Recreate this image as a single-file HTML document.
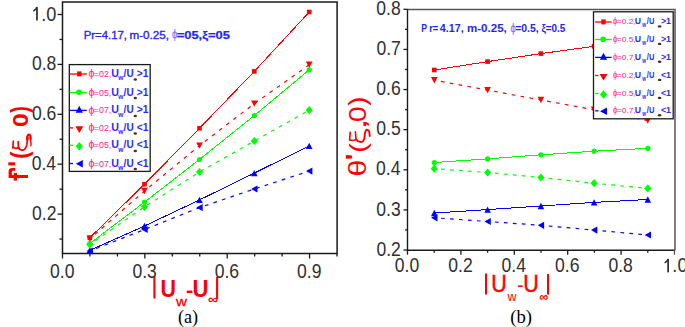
<!DOCTYPE html>
<html><head><meta charset="utf-8"><style>
html,body{margin:0;padding:0;background:#fff;}
body{width:685px;height:327px;overflow:hidden;}
svg{display:block;}
.tl{font-family:"Liberation Sans",sans-serif;font-size:19.5px;fill:#303030;}
</style></head><body>
<svg width="685" height="327" viewBox="0 0 685 327">
<path d="M62.5,2V253.5H337.1V2Z" fill="none" stroke="#1a1a1a" stroke-width="1.5"/>
<line x1="57.5" y1="14.50" x2="62.5" y2="14.50" stroke="#1a1a1a" stroke-width="1.3"/>
<line x1="59.5" y1="39.45" x2="62.5" y2="39.45" stroke="#1a1a1a" stroke-width="1.3"/>
<line x1="57.5" y1="64.40" x2="62.5" y2="64.40" stroke="#1a1a1a" stroke-width="1.3"/>
<line x1="59.5" y1="89.35" x2="62.5" y2="89.35" stroke="#1a1a1a" stroke-width="1.3"/>
<line x1="57.5" y1="114.30" x2="62.5" y2="114.30" stroke="#1a1a1a" stroke-width="1.3"/>
<line x1="59.5" y1="139.25" x2="62.5" y2="139.25" stroke="#1a1a1a" stroke-width="1.3"/>
<line x1="57.5" y1="164.20" x2="62.5" y2="164.20" stroke="#1a1a1a" stroke-width="1.3"/>
<line x1="59.5" y1="189.15" x2="62.5" y2="189.15" stroke="#1a1a1a" stroke-width="1.3"/>
<line x1="57.5" y1="214.10" x2="62.5" y2="214.10" stroke="#1a1a1a" stroke-width="1.3"/>
<line x1="59.5" y1="239.05" x2="62.5" y2="239.05" stroke="#1a1a1a" stroke-width="1.3"/>
<line x1="62.50" y1="253.5" x2="62.50" y2="258.5" stroke="#1a1a1a" stroke-width="1.3"/>
<line x1="89.95" y1="253.5" x2="89.95" y2="256.5" stroke="#1a1a1a" stroke-width="1.3"/>
<line x1="117.40" y1="253.5" x2="117.40" y2="256.5" stroke="#1a1a1a" stroke-width="1.3"/>
<line x1="144.85" y1="253.5" x2="144.85" y2="258.5" stroke="#1a1a1a" stroke-width="1.3"/>
<line x1="172.30" y1="253.5" x2="172.30" y2="256.5" stroke="#1a1a1a" stroke-width="1.3"/>
<line x1="199.75" y1="253.5" x2="199.75" y2="256.5" stroke="#1a1a1a" stroke-width="1.3"/>
<line x1="227.20" y1="253.5" x2="227.20" y2="258.5" stroke="#1a1a1a" stroke-width="1.3"/>
<line x1="254.65" y1="253.5" x2="254.65" y2="256.5" stroke="#1a1a1a" stroke-width="1.3"/>
<line x1="282.10" y1="253.5" x2="282.10" y2="256.5" stroke="#1a1a1a" stroke-width="1.3"/>
<line x1="309.55" y1="253.5" x2="309.55" y2="258.5" stroke="#1a1a1a" stroke-width="1.3"/>
<line x1="337.00" y1="253.5" x2="337.00" y2="256.5" stroke="#1a1a1a" stroke-width="1.3"/>
<path d="M33.43,10.98 C35.03,10.08 36.33,8.68 36.93,7.08" fill="none" stroke="#303030" stroke-width="1.5"/><rect x="36.08" y="7.08" width="1.75" height="13.42" fill="#303030"/><text x="41.17" y="20.50" font-family='"Liberation Sans",sans-serif' font-size="19.5" font-weight="normal" fill="#303030" textLength="15.14" lengthAdjust="spacingAndGlyphs" >.0</text>
<text x="31.97" y="70.40" font-family='"Liberation Sans",sans-serif' font-size="19.5" font-weight="normal" fill="#303030" textLength="24.40" lengthAdjust="spacingAndGlyphs" >0.8</text>
<text x="31.97" y="120.30" font-family='"Liberation Sans",sans-serif' font-size="19.5" font-weight="normal" fill="#303030" textLength="24.40" lengthAdjust="spacingAndGlyphs" >0.6</text>
<text x="31.72" y="170.20" font-family='"Liberation Sans",sans-serif' font-size="19.5" font-weight="normal" fill="#303030" textLength="24.40" lengthAdjust="spacingAndGlyphs" >0.4</text>
<text x="32.09" y="220.10" font-family='"Liberation Sans",sans-serif' font-size="19.5" font-weight="normal" fill="#303030" textLength="24.40" lengthAdjust="spacingAndGlyphs" >0.2</text>
<text x="50.00" y="277.80" font-family='"Liberation Sans",sans-serif' font-size="19.5" font-weight="normal" fill="#303030" textLength="24.40" lengthAdjust="spacingAndGlyphs" >0.0</text>
<text x="132.39" y="277.80" font-family='"Liberation Sans",sans-serif' font-size="19.5" font-weight="normal" fill="#303030" textLength="24.40" lengthAdjust="spacingAndGlyphs" >0.3</text>
<text x="214.74" y="277.80" font-family='"Liberation Sans",sans-serif' font-size="19.5" font-weight="normal" fill="#303030" textLength="24.40" lengthAdjust="spacingAndGlyphs" >0.6</text>
<text x="297.12" y="277.80" font-family='"Liberation Sans",sans-serif' font-size="19.5" font-weight="normal" fill="#303030" textLength="24.40" lengthAdjust="spacingAndGlyphs" >0.9</text>
<polyline points="89.80,237.80 144.50,184.20 199.50,128.30 254.30,71.40 309.20,12.00" fill="none" stroke="#ff0000" stroke-width="1" shape-rendering="crispEdges"/>
<polyline points="89.80,243.50 144.50,202.10 199.50,159.50 254.30,115.50 309.20,69.90" fill="none" stroke="#00ff00" stroke-width="1" shape-rendering="crispEdges"/>
<polyline points="89.80,250.30 144.50,226.00 199.50,199.90 254.30,173.10 309.20,145.90" fill="none" stroke="#0000ff" stroke-width="1" shape-rendering="crispEdges"/>
<polyline points="89.80,238.80 144.50,191.00 199.50,145.60 254.30,103.60 309.20,64.80" fill="none" stroke="#ff0000" stroke-width="1.2" stroke-dasharray="3.7 5.3" stroke-dashoffset="2.3"/>
<polyline points="89.80,244.50 144.50,206.80 199.50,172.00 254.30,141.00 309.20,110.20" fill="none" stroke="#00ff00" stroke-width="1.2" stroke-dasharray="3.7 5.3" stroke-dashoffset="2.3"/>
<polyline points="89.80,251.00 144.50,229.50 199.50,207.60 254.30,189.00 309.20,171.10" fill="none" stroke="#0000ff" stroke-width="1.2" stroke-dasharray="3.7 5.3" stroke-dashoffset="2.3"/>
<rect x="87.50" y="235.50" width="4.60" height="4.60" fill="#ff0000"/>
<rect x="142.20" y="181.90" width="4.60" height="4.60" fill="#ff0000"/>
<rect x="197.20" y="126.00" width="4.60" height="4.60" fill="#ff0000"/>
<rect x="252.00" y="69.10" width="4.60" height="4.60" fill="#ff0000"/>
<rect x="306.90" y="9.70" width="4.60" height="4.60" fill="#ff0000"/>
<circle cx="89.80" cy="243.50" r="2.60" fill="#00ff00"/>
<circle cx="144.50" cy="202.10" r="2.60" fill="#00ff00"/>
<circle cx="199.50" cy="159.50" r="2.60" fill="#00ff00"/>
<circle cx="254.30" cy="115.50" r="2.60" fill="#00ff00"/>
<circle cx="309.20" cy="69.90" r="2.60" fill="#00ff00"/>
<path d="M86.50,253.50H93.10L89.80,247.10Z" fill="#0000ff"/>
<path d="M141.20,229.20H147.80L144.50,222.80Z" fill="#0000ff"/>
<path d="M196.20,203.10H202.80L199.50,196.70Z" fill="#0000ff"/>
<path d="M251.00,176.30H257.60L254.30,169.90Z" fill="#0000ff"/>
<path d="M305.90,149.10H312.50L309.20,142.70Z" fill="#0000ff"/>
<path d="M86.50,235.60H93.10L89.80,242.00Z" fill="#ff0000"/>
<path d="M141.20,187.80H147.80L144.50,194.20Z" fill="#ff0000"/>
<path d="M196.20,142.40H202.80L199.50,148.80Z" fill="#ff0000"/>
<path d="M251.00,100.40H257.60L254.30,106.80Z" fill="#ff0000"/>
<path d="M305.90,61.60H312.50L309.20,68.00Z" fill="#ff0000"/>
<path d="M89.80,240.40L93.40,244.50L89.80,248.60L86.20,244.50Z" fill="#00ff00"/>
<path d="M144.50,202.70L148.10,206.80L144.50,210.90L140.90,206.80Z" fill="#00ff00"/>
<path d="M199.50,167.90L203.10,172.00L199.50,176.10L195.90,172.00Z" fill="#00ff00"/>
<path d="M254.30,136.90L257.90,141.00L254.30,145.10L250.70,141.00Z" fill="#00ff00"/>
<path d="M309.20,106.10L312.80,110.20L309.20,114.30L305.60,110.20Z" fill="#00ff00"/>
<path d="M93.00,247.40V254.60L86.60,251.00Z" fill="#0000ff"/>
<path d="M147.70,225.90V233.10L141.30,229.50Z" fill="#0000ff"/>
<path d="M202.70,204.00V211.20L196.30,207.60Z" fill="#0000ff"/>
<path d="M257.50,185.40V192.60L251.10,189.00Z" fill="#0000ff"/>
<path d="M312.40,167.50V174.70L306.00,171.10Z" fill="#0000ff"/>
<rect x="69.3" y="64.6" width="80.89999999999999" height="106.80000000000001" fill="#fff" stroke="#1a1a1a" stroke-width="1.3"/>
<line x1="69.6" y1="74" x2="86.8" y2="74" stroke="#ff0000" stroke-width="1.3"/>
<rect x="77.10" y="71.40" width="4.4" height="5.0" fill="#ff0000"/>
<text x="88.48" y="77.10" font-family='"Liberation Sans",sans-serif' font-size="10" font-weight="normal" fill="#ff1a90" textLength="6.04" lengthAdjust="spacingAndGlyphs" >ϕ</text>
<text x="93.87" y="77.00" font-family='"Liberation Sans",sans-serif' font-size="9.2" font-weight="normal" fill="#ff1a90" textLength="17.42" lengthAdjust="spacingAndGlyphs" >=02,</text>
<text x="111.26" y="77.00" font-family='"Liberation Sans",sans-serif' font-size="11.2" font-weight="bold" fill="#2b2bff" textLength="7.69" lengthAdjust="spacingAndGlyphs" >U</text>
<text x="118.32" y="80.40" font-family='"Liberation Sans",sans-serif' font-size="6.5" font-weight="bold" fill="#2b2bff" textLength="5.07" lengthAdjust="spacingAndGlyphs" >w</text>
<text x="123.60" y="77.00" font-family='"Liberation Sans",sans-serif' font-size="11.2" font-weight="bold" fill="#2b2bff" textLength="10.01" lengthAdjust="spacingAndGlyphs" >/U</text>
<ellipse cx="135.3" cy="79.60" rx="1.7" ry="1.25" fill="#4a3010"/>
<text x="136.77" y="77.00" font-family='"Liberation Sans",sans-serif' font-size="11.2" font-weight="bold" fill="#2b2bff" textLength="11.61" lengthAdjust="spacingAndGlyphs" >&gt;1</text>
<line x1="69.6" y1="92.5" x2="86.8" y2="92.5" stroke="#00ff00" stroke-width="1.3"/>
<circle cx="78.90" cy="92.20" r="2.8" fill="#00ff00"/>
<text x="88.48" y="95.60" font-family='"Liberation Sans",sans-serif' font-size="10" font-weight="normal" fill="#ff1a90" textLength="6.04" lengthAdjust="spacingAndGlyphs" >ϕ</text>
<text x="93.87" y="95.50" font-family='"Liberation Sans",sans-serif' font-size="9.2" font-weight="normal" fill="#ff1a90" textLength="17.42" lengthAdjust="spacingAndGlyphs" >=05,</text>
<text x="111.26" y="95.50" font-family='"Liberation Sans",sans-serif' font-size="11.2" font-weight="bold" fill="#2b2bff" textLength="7.69" lengthAdjust="spacingAndGlyphs" >U</text>
<text x="118.32" y="98.90" font-family='"Liberation Sans",sans-serif' font-size="6.5" font-weight="bold" fill="#2b2bff" textLength="5.07" lengthAdjust="spacingAndGlyphs" >w</text>
<text x="123.60" y="95.50" font-family='"Liberation Sans",sans-serif' font-size="11.2" font-weight="bold" fill="#2b2bff" textLength="10.01" lengthAdjust="spacingAndGlyphs" >/U</text>
<ellipse cx="135.3" cy="98.10" rx="1.7" ry="1.25" fill="#4a3010"/>
<text x="136.77" y="95.50" font-family='"Liberation Sans",sans-serif' font-size="11.2" font-weight="bold" fill="#2b2bff" textLength="11.61" lengthAdjust="spacingAndGlyphs" >&gt;1</text>
<line x1="69.6" y1="110.4" x2="86.8" y2="110.4" stroke="#0000ff" stroke-width="1.3"/>
<path d="M75.70,112.70H82.90L79.30,105.80Z" fill="#0000ff"/>
<text x="88.48" y="113.50" font-family='"Liberation Sans",sans-serif' font-size="10" font-weight="normal" fill="#ff1a90" textLength="6.04" lengthAdjust="spacingAndGlyphs" >ϕ</text>
<text x="93.87" y="113.40" font-family='"Liberation Sans",sans-serif' font-size="9.2" font-weight="normal" fill="#ff1a90" textLength="17.42" lengthAdjust="spacingAndGlyphs" >=07,</text>
<text x="111.26" y="113.40" font-family='"Liberation Sans",sans-serif' font-size="11.2" font-weight="bold" fill="#2b2bff" textLength="7.69" lengthAdjust="spacingAndGlyphs" >U</text>
<text x="118.32" y="116.80" font-family='"Liberation Sans",sans-serif' font-size="6.5" font-weight="bold" fill="#2b2bff" textLength="5.07" lengthAdjust="spacingAndGlyphs" >w</text>
<text x="123.60" y="113.40" font-family='"Liberation Sans",sans-serif' font-size="11.2" font-weight="bold" fill="#2b2bff" textLength="10.01" lengthAdjust="spacingAndGlyphs" >/U</text>
<ellipse cx="135.3" cy="116.00" rx="1.7" ry="1.25" fill="#4a3010"/>
<text x="136.77" y="113.40" font-family='"Liberation Sans",sans-serif' font-size="11.2" font-weight="bold" fill="#2b2bff" textLength="11.61" lengthAdjust="spacingAndGlyphs" >&gt;1</text>
<line x1="69.6" y1="127.9" x2="73.0" y2="127.9" stroke="#ff0000" stroke-width="1.3"/>
<path d="M75.30,126.30H83.30L79.30,132.90Z" fill="#ff0000"/>
<text x="88.48" y="131.00" font-family='"Liberation Sans",sans-serif' font-size="10" font-weight="normal" fill="#ff1a90" textLength="6.04" lengthAdjust="spacingAndGlyphs" >ϕ</text>
<text x="93.87" y="130.90" font-family='"Liberation Sans",sans-serif' font-size="9.2" font-weight="normal" fill="#ff1a90" textLength="17.42" lengthAdjust="spacingAndGlyphs" >=02,</text>
<text x="111.26" y="130.90" font-family='"Liberation Sans",sans-serif' font-size="11.2" font-weight="bold" fill="#2b2bff" textLength="7.69" lengthAdjust="spacingAndGlyphs" >U</text>
<text x="118.32" y="134.30" font-family='"Liberation Sans",sans-serif' font-size="6.5" font-weight="bold" fill="#2b2bff" textLength="5.07" lengthAdjust="spacingAndGlyphs" >w</text>
<text x="123.60" y="130.90" font-family='"Liberation Sans",sans-serif' font-size="11.2" font-weight="bold" fill="#2b2bff" textLength="10.01" lengthAdjust="spacingAndGlyphs" >/U</text>
<ellipse cx="135.3" cy="133.50" rx="1.7" ry="1.25" fill="#4a3010"/>
<text x="136.77" y="130.90" font-family='"Liberation Sans",sans-serif' font-size="11.2" font-weight="bold" fill="#2b2bff" textLength="11.61" lengthAdjust="spacingAndGlyphs" >&lt;1</text>
<line x1="69.6" y1="145.3" x2="73.0" y2="145.3" stroke="#00ff00" stroke-width="1.3"/>
<path d="M79.30,142.10L82.90,146.30L79.30,150.50L75.70,146.30Z" fill="#00ff00"/>
<text x="88.48" y="148.40" font-family='"Liberation Sans",sans-serif' font-size="10" font-weight="normal" fill="#ff1a90" textLength="6.04" lengthAdjust="spacingAndGlyphs" >ϕ</text>
<text x="93.87" y="148.30" font-family='"Liberation Sans",sans-serif' font-size="9.2" font-weight="normal" fill="#ff1a90" textLength="17.42" lengthAdjust="spacingAndGlyphs" >=05,</text>
<text x="111.26" y="148.30" font-family='"Liberation Sans",sans-serif' font-size="11.2" font-weight="bold" fill="#2b2bff" textLength="7.69" lengthAdjust="spacingAndGlyphs" >U</text>
<text x="118.32" y="151.70" font-family='"Liberation Sans",sans-serif' font-size="6.5" font-weight="bold" fill="#2b2bff" textLength="5.07" lengthAdjust="spacingAndGlyphs" >w</text>
<text x="123.60" y="148.30" font-family='"Liberation Sans",sans-serif' font-size="11.2" font-weight="bold" fill="#2b2bff" textLength="10.01" lengthAdjust="spacingAndGlyphs" >/U</text>
<ellipse cx="135.3" cy="150.90" rx="1.7" ry="1.25" fill="#4a3010"/>
<text x="136.77" y="148.30" font-family='"Liberation Sans",sans-serif' font-size="11.2" font-weight="bold" fill="#2b2bff" textLength="11.61" lengthAdjust="spacingAndGlyphs" >&lt;1</text>
<line x1="69.6" y1="163.5" x2="73.0" y2="163.5" stroke="#0000ff" stroke-width="1.3"/>
<path d="M82.80,160.10V167.60L75.80,163.85Z" fill="#0000ff"/>
<text x="88.48" y="166.60" font-family='"Liberation Sans",sans-serif' font-size="10" font-weight="normal" fill="#ff1a90" textLength="6.04" lengthAdjust="spacingAndGlyphs" >ϕ</text>
<text x="93.87" y="166.50" font-family='"Liberation Sans",sans-serif' font-size="9.2" font-weight="normal" fill="#ff1a90" textLength="17.42" lengthAdjust="spacingAndGlyphs" >=07,</text>
<text x="111.26" y="166.50" font-family='"Liberation Sans",sans-serif' font-size="11.2" font-weight="bold" fill="#2b2bff" textLength="7.69" lengthAdjust="spacingAndGlyphs" >U</text>
<text x="118.32" y="169.90" font-family='"Liberation Sans",sans-serif' font-size="6.5" font-weight="bold" fill="#2b2bff" textLength="5.07" lengthAdjust="spacingAndGlyphs" >w</text>
<text x="123.60" y="166.50" font-family='"Liberation Sans",sans-serif' font-size="11.2" font-weight="bold" fill="#2b2bff" textLength="10.01" lengthAdjust="spacingAndGlyphs" >/U</text>
<ellipse cx="135.3" cy="169.10" rx="1.7" ry="1.25" fill="#4a3010"/>
<text x="136.77" y="166.50" font-family='"Liberation Sans",sans-serif' font-size="11.2" font-weight="bold" fill="#2b2bff" textLength="11.61" lengthAdjust="spacingAndGlyphs" >&lt;1</text>
<path d="M407.5,9.3V250.2H675" fill="none" stroke="#1a1a1a" stroke-width="1.4"/>
<path d="M407.5,9.5H675V250.2" fill="none" stroke="#555" stroke-width="1.5"/>
<line x1="403.5" y1="9.30" x2="407.5" y2="9.30" stroke="#1a1a1a" stroke-width="1.3"/>
<line x1="405.0" y1="29.36" x2="407.5" y2="29.36" stroke="#1a1a1a" stroke-width="1.3"/>
<line x1="403.5" y1="49.42" x2="407.5" y2="49.42" stroke="#1a1a1a" stroke-width="1.3"/>
<line x1="405.0" y1="69.48" x2="407.5" y2="69.48" stroke="#1a1a1a" stroke-width="1.3"/>
<line x1="403.5" y1="89.54" x2="407.5" y2="89.54" stroke="#1a1a1a" stroke-width="1.3"/>
<line x1="405.0" y1="109.60" x2="407.5" y2="109.60" stroke="#1a1a1a" stroke-width="1.3"/>
<line x1="403.5" y1="129.66" x2="407.5" y2="129.66" stroke="#1a1a1a" stroke-width="1.3"/>
<line x1="405.0" y1="149.72" x2="407.5" y2="149.72" stroke="#1a1a1a" stroke-width="1.3"/>
<line x1="403.5" y1="169.78" x2="407.5" y2="169.78" stroke="#1a1a1a" stroke-width="1.3"/>
<line x1="405.0" y1="189.84" x2="407.5" y2="189.84" stroke="#1a1a1a" stroke-width="1.3"/>
<line x1="403.5" y1="209.90" x2="407.5" y2="209.90" stroke="#1a1a1a" stroke-width="1.3"/>
<line x1="405.0" y1="229.96" x2="407.5" y2="229.96" stroke="#1a1a1a" stroke-width="1.3"/>
<line x1="403.5" y1="250.02" x2="407.5" y2="250.02" stroke="#1a1a1a" stroke-width="1.3"/>
<line x1="407.50" y1="250.2" x2="407.50" y2="254.7" stroke="#1a1a1a" stroke-width="1.3"/>
<line x1="434.20" y1="250.2" x2="434.20" y2="252.7" stroke="#1a1a1a" stroke-width="1.3"/>
<line x1="460.90" y1="250.2" x2="460.90" y2="254.7" stroke="#1a1a1a" stroke-width="1.3"/>
<line x1="487.60" y1="250.2" x2="487.60" y2="252.7" stroke="#1a1a1a" stroke-width="1.3"/>
<line x1="514.30" y1="250.2" x2="514.30" y2="254.7" stroke="#1a1a1a" stroke-width="1.3"/>
<line x1="541.00" y1="250.2" x2="541.00" y2="252.7" stroke="#1a1a1a" stroke-width="1.3"/>
<line x1="567.70" y1="250.2" x2="567.70" y2="254.7" stroke="#1a1a1a" stroke-width="1.3"/>
<line x1="594.40" y1="250.2" x2="594.40" y2="252.7" stroke="#1a1a1a" stroke-width="1.3"/>
<line x1="621.10" y1="250.2" x2="621.10" y2="254.7" stroke="#1a1a1a" stroke-width="1.3"/>
<line x1="647.80" y1="250.2" x2="647.80" y2="252.7" stroke="#1a1a1a" stroke-width="1.3"/>
<line x1="674.50" y1="250.2" x2="674.50" y2="254.7" stroke="#555" stroke-width="1.3"/>
<text x="376.37" y="14.90" font-family='"Liberation Sans",sans-serif' font-size="19.5" font-weight="normal" fill="#303030" textLength="24.40" lengthAdjust="spacingAndGlyphs" >0.8</text>
<text x="376.49" y="55.02" font-family='"Liberation Sans",sans-serif' font-size="19.5" font-weight="normal" fill="#303030" textLength="24.40" lengthAdjust="spacingAndGlyphs" >0.7</text>
<text x="376.37" y="95.14" font-family='"Liberation Sans",sans-serif' font-size="19.5" font-weight="normal" fill="#303030" textLength="24.40" lengthAdjust="spacingAndGlyphs" >0.6</text>
<text x="376.34" y="135.26" font-family='"Liberation Sans",sans-serif' font-size="19.5" font-weight="normal" fill="#303030" textLength="24.40" lengthAdjust="spacingAndGlyphs" >0.5</text>
<text x="376.12" y="175.38" font-family='"Liberation Sans",sans-serif' font-size="19.5" font-weight="normal" fill="#303030" textLength="24.40" lengthAdjust="spacingAndGlyphs" >0.4</text>
<text x="376.37" y="215.50" font-family='"Liberation Sans",sans-serif' font-size="19.5" font-weight="normal" fill="#303030" textLength="24.40" lengthAdjust="spacingAndGlyphs" >0.3</text>
<text x="376.49" y="255.62" font-family='"Liberation Sans",sans-serif' font-size="19.5" font-weight="normal" fill="#303030" textLength="24.40" lengthAdjust="spacingAndGlyphs" >0.2</text>
<text x="394.80" y="272.40" font-family='"Liberation Sans",sans-serif' font-size="19.5" font-weight="normal" fill="#303030" textLength="24.40" lengthAdjust="spacingAndGlyphs" >0.0</text>
<text x="448.30" y="272.40" font-family='"Liberation Sans",sans-serif' font-size="19.5" font-weight="normal" fill="#303030" textLength="24.40" lengthAdjust="spacingAndGlyphs" >0.2</text>
<text x="501.52" y="272.40" font-family='"Liberation Sans",sans-serif' font-size="19.5" font-weight="normal" fill="#303030" textLength="24.40" lengthAdjust="spacingAndGlyphs" >0.4</text>
<text x="555.04" y="272.40" font-family='"Liberation Sans",sans-serif' font-size="19.5" font-weight="normal" fill="#303030" textLength="24.40" lengthAdjust="spacingAndGlyphs" >0.6</text>
<text x="608.44" y="272.40" font-family='"Liberation Sans",sans-serif' font-size="19.5" font-weight="normal" fill="#303030" textLength="24.40" lengthAdjust="spacingAndGlyphs" >0.8</text>
<path d="M664.61,262.88 C666.21,261.98 667.51,260.58 668.11,258.98" fill="none" stroke="#303030" stroke-width="1.5"/><rect x="667.26" y="258.98" width="1.75" height="13.42" fill="#303030"/><text x="672.35" y="272.40" font-family='"Liberation Sans",sans-serif' font-size="19.5" font-weight="normal" fill="#303030" textLength="15.14" lengthAdjust="spacingAndGlyphs" >.0</text>
<polyline points="434.30,70.00 487.60,61.60 540.90,53.60 594.10,46.30 647.80,38.50" fill="none" stroke="#ff0000" stroke-width="1" shape-rendering="crispEdges"/>
<polyline points="434.30,162.50 487.60,158.90 540.90,154.80 594.10,151.20 647.80,148.30" fill="none" stroke="#00ff00" stroke-width="1" shape-rendering="crispEdges"/>
<polyline points="434.30,213.00 487.60,209.60 540.90,206.00 594.10,202.40 647.80,199.50" fill="none" stroke="#0000ff" stroke-width="1" shape-rendering="crispEdges"/>
<polyline points="434.30,80.20 487.60,90.10 540.90,100.00 594.10,109.80 647.80,120.60" fill="none" stroke="#ff0000" stroke-width="1.2" stroke-dasharray="3.7 5.3" stroke-dashoffset="2.3"/>
<polyline points="434.30,168.70 487.60,172.50 540.90,177.50 594.10,183.20 647.80,188.40" fill="none" stroke="#00ff00" stroke-width="1.2" stroke-dasharray="3.7 5.3" stroke-dashoffset="2.3"/>
<polyline points="434.30,217.80 487.60,221.50 540.90,225.30 594.10,230.10 647.80,235.00" fill="none" stroke="#0000ff" stroke-width="1.2" stroke-dasharray="3.7 5.3" stroke-dashoffset="2.3"/>
<rect x="432.00" y="67.70" width="4.60" height="4.60" fill="#ff0000"/>
<rect x="485.30" y="59.30" width="4.60" height="4.60" fill="#ff0000"/>
<rect x="538.60" y="51.30" width="4.60" height="4.60" fill="#ff0000"/>
<rect x="591.80" y="44.00" width="4.60" height="4.60" fill="#ff0000"/>
<rect x="645.50" y="36.20" width="4.60" height="4.60" fill="#ff0000"/>
<circle cx="434.30" cy="162.50" r="2.60" fill="#00ff00"/>
<circle cx="487.60" cy="158.90" r="2.60" fill="#00ff00"/>
<circle cx="540.90" cy="154.80" r="2.60" fill="#00ff00"/>
<circle cx="594.10" cy="151.20" r="2.60" fill="#00ff00"/>
<circle cx="647.80" cy="148.30" r="2.60" fill="#00ff00"/>
<path d="M431.00,216.20H437.60L434.30,209.80Z" fill="#0000ff"/>
<path d="M484.30,212.80H490.90L487.60,206.40Z" fill="#0000ff"/>
<path d="M537.60,209.20H544.20L540.90,202.80Z" fill="#0000ff"/>
<path d="M590.80,205.60H597.40L594.10,199.20Z" fill="#0000ff"/>
<path d="M644.50,202.70H651.10L647.80,196.30Z" fill="#0000ff"/>
<path d="M431.00,77.00H437.60L434.30,83.40Z" fill="#ff0000"/>
<path d="M484.30,86.90H490.90L487.60,93.30Z" fill="#ff0000"/>
<path d="M537.60,96.80H544.20L540.90,103.20Z" fill="#ff0000"/>
<path d="M590.80,106.60H597.40L594.10,113.00Z" fill="#ff0000"/>
<path d="M644.50,117.40H651.10L647.80,123.80Z" fill="#ff0000"/>
<path d="M434.30,164.60L437.90,168.70L434.30,172.80L430.70,168.70Z" fill="#00ff00"/>
<path d="M487.60,168.40L491.20,172.50L487.60,176.60L484.00,172.50Z" fill="#00ff00"/>
<path d="M540.90,173.40L544.50,177.50L540.90,181.60L537.30,177.50Z" fill="#00ff00"/>
<path d="M594.10,179.10L597.70,183.20L594.10,187.30L590.50,183.20Z" fill="#00ff00"/>
<path d="M647.80,184.30L651.40,188.40L647.80,192.50L644.20,188.40Z" fill="#00ff00"/>
<path d="M437.50,214.20V221.40L431.10,217.80Z" fill="#0000ff"/>
<path d="M490.80,217.90V225.10L484.40,221.50Z" fill="#0000ff"/>
<path d="M544.10,221.70V228.90L537.70,225.30Z" fill="#0000ff"/>
<path d="M597.30,226.50V233.70L590.90,230.10Z" fill="#0000ff"/>
<path d="M651.00,231.40V238.60L644.60,235.00Z" fill="#0000ff"/>
<rect x="593.5" y="11.8" width="79.70000000000005" height="107.0" fill="#fff" stroke="#1a1a1a" stroke-width="1.3"/>
<line x1="595.1" y1="22" x2="611.6" y2="22" stroke="#ff0000" stroke-width="1.3"/>
<rect x="601.30" y="19.40" width="4.4" height="5.0" fill="#ff0000"/>
<text x="613.00" y="24.30" font-family='"Liberation Sans",sans-serif' font-size="8.5" font-weight="normal" fill="#ff1a90" textLength="4.30" lengthAdjust="spacingAndGlyphs" >ϕ</text>
<text x="616.79" y="24.30" font-family='"Liberation Sans",sans-serif' font-size="7.8" font-weight="normal" fill="#ff1a90" textLength="18.97" lengthAdjust="spacingAndGlyphs" >=0.2,</text>
<text x="634.68" y="24.30" font-family='"Liberation Sans",sans-serif' font-size="9.6" font-weight="bold" fill="#2b2bff" textLength="6.25" lengthAdjust="spacingAndGlyphs" >U</text>
<text x="642.21" y="27.10" font-family='"Liberation Sans",sans-serif' font-size="6.5" font-weight="bold" fill="#2b2bff" textLength="3.78" lengthAdjust="spacingAndGlyphs" >w</text>
<text x="646.83" y="24.30" font-family='"Liberation Sans",sans-serif' font-size="9.6" font-weight="bold" fill="#2b2bff" textLength="7.53" lengthAdjust="spacingAndGlyphs" >/U</text>
<ellipse cx="659.6" cy="26.40" rx="1.8" ry="1.2" fill="#4a3010"/>
<text x="660.93" y="24.30" font-family='"Liberation Sans",sans-serif' font-size="9.6" font-weight="bold" fill="#2b2bff" textLength="10.01" lengthAdjust="spacingAndGlyphs" >&gt;1</text>
<line x1="595.1" y1="39.5" x2="611.6" y2="39.5" stroke="#00ff00" stroke-width="1.3"/>
<circle cx="603.10" cy="39.20" r="2.8" fill="#00ff00"/>
<text x="613.00" y="41.80" font-family='"Liberation Sans",sans-serif' font-size="8.5" font-weight="normal" fill="#ff1a90" textLength="4.30" lengthAdjust="spacingAndGlyphs" >ϕ</text>
<text x="616.79" y="41.80" font-family='"Liberation Sans",sans-serif' font-size="7.8" font-weight="normal" fill="#ff1a90" textLength="18.97" lengthAdjust="spacingAndGlyphs" >=0.5,</text>
<text x="634.68" y="41.80" font-family='"Liberation Sans",sans-serif' font-size="9.6" font-weight="bold" fill="#2b2bff" textLength="6.25" lengthAdjust="spacingAndGlyphs" >U</text>
<text x="642.21" y="44.60" font-family='"Liberation Sans",sans-serif' font-size="6.5" font-weight="bold" fill="#2b2bff" textLength="3.78" lengthAdjust="spacingAndGlyphs" >w</text>
<text x="646.83" y="41.80" font-family='"Liberation Sans",sans-serif' font-size="9.6" font-weight="bold" fill="#2b2bff" textLength="7.53" lengthAdjust="spacingAndGlyphs" >/U</text>
<ellipse cx="659.6" cy="43.90" rx="1.8" ry="1.2" fill="#4a3010"/>
<text x="660.93" y="41.80" font-family='"Liberation Sans",sans-serif' font-size="9.6" font-weight="bold" fill="#2b2bff" textLength="10.01" lengthAdjust="spacingAndGlyphs" >&gt;1</text>
<line x1="595.1" y1="57.4" x2="611.6" y2="57.4" stroke="#0000ff" stroke-width="1.3"/>
<path d="M599.90,59.70H607.10L603.50,52.80Z" fill="#0000ff"/>
<text x="613.00" y="59.70" font-family='"Liberation Sans",sans-serif' font-size="8.5" font-weight="normal" fill="#ff1a90" textLength="4.30" lengthAdjust="spacingAndGlyphs" >ϕ</text>
<text x="616.79" y="59.70" font-family='"Liberation Sans",sans-serif' font-size="7.8" font-weight="normal" fill="#ff1a90" textLength="18.97" lengthAdjust="spacingAndGlyphs" >=0.7,</text>
<text x="634.68" y="59.70" font-family='"Liberation Sans",sans-serif' font-size="9.6" font-weight="bold" fill="#2b2bff" textLength="6.25" lengthAdjust="spacingAndGlyphs" >U</text>
<text x="642.21" y="62.50" font-family='"Liberation Sans",sans-serif' font-size="6.5" font-weight="bold" fill="#2b2bff" textLength="3.78" lengthAdjust="spacingAndGlyphs" >w</text>
<text x="646.83" y="59.70" font-family='"Liberation Sans",sans-serif' font-size="9.6" font-weight="bold" fill="#2b2bff" textLength="7.53" lengthAdjust="spacingAndGlyphs" >/U</text>
<ellipse cx="659.6" cy="61.80" rx="1.8" ry="1.2" fill="#4a3010"/>
<text x="660.93" y="59.70" font-family='"Liberation Sans",sans-serif' font-size="9.6" font-weight="bold" fill="#2b2bff" textLength="10.01" lengthAdjust="spacingAndGlyphs" >&gt;1</text>
<line x1="595.1" y1="75.5" x2="598.5" y2="75.5" stroke="#ff0000" stroke-width="1.3"/>
<path d="M599.50,73.90H607.50L603.50,80.50Z" fill="#ff0000"/>
<text x="613.00" y="77.80" font-family='"Liberation Sans",sans-serif' font-size="8.5" font-weight="normal" fill="#ff1a90" textLength="4.30" lengthAdjust="spacingAndGlyphs" >ϕ</text>
<text x="616.79" y="77.80" font-family='"Liberation Sans",sans-serif' font-size="7.8" font-weight="normal" fill="#ff1a90" textLength="18.97" lengthAdjust="spacingAndGlyphs" >=0.2,</text>
<text x="634.68" y="77.80" font-family='"Liberation Sans",sans-serif' font-size="9.6" font-weight="bold" fill="#2b2bff" textLength="6.25" lengthAdjust="spacingAndGlyphs" >U</text>
<text x="642.21" y="80.60" font-family='"Liberation Sans",sans-serif' font-size="6.5" font-weight="bold" fill="#2b2bff" textLength="3.78" lengthAdjust="spacingAndGlyphs" >w</text>
<text x="646.83" y="77.80" font-family='"Liberation Sans",sans-serif' font-size="9.6" font-weight="bold" fill="#2b2bff" textLength="7.53" lengthAdjust="spacingAndGlyphs" >/U</text>
<ellipse cx="659.6" cy="79.90" rx="1.8" ry="1.2" fill="#4a3010"/>
<text x="660.93" y="77.80" font-family='"Liberation Sans",sans-serif' font-size="9.6" font-weight="bold" fill="#2b2bff" textLength="10.01" lengthAdjust="spacingAndGlyphs" >&lt;1</text>
<line x1="595.1" y1="93.5" x2="598.5" y2="93.5" stroke="#00ff00" stroke-width="1.3"/>
<path d="M603.50,90.30L607.10,94.50L603.50,98.70L599.90,94.50Z" fill="#00ff00"/>
<text x="613.00" y="95.80" font-family='"Liberation Sans",sans-serif' font-size="8.5" font-weight="normal" fill="#ff1a90" textLength="4.30" lengthAdjust="spacingAndGlyphs" >ϕ</text>
<text x="616.79" y="95.80" font-family='"Liberation Sans",sans-serif' font-size="7.8" font-weight="normal" fill="#ff1a90" textLength="18.97" lengthAdjust="spacingAndGlyphs" >=0.5,</text>
<text x="634.68" y="95.80" font-family='"Liberation Sans",sans-serif' font-size="9.6" font-weight="bold" fill="#2b2bff" textLength="6.25" lengthAdjust="spacingAndGlyphs" >U</text>
<text x="642.21" y="98.60" font-family='"Liberation Sans",sans-serif' font-size="6.5" font-weight="bold" fill="#2b2bff" textLength="3.78" lengthAdjust="spacingAndGlyphs" >w</text>
<text x="646.83" y="95.80" font-family='"Liberation Sans",sans-serif' font-size="9.6" font-weight="bold" fill="#2b2bff" textLength="7.53" lengthAdjust="spacingAndGlyphs" >/U</text>
<ellipse cx="659.6" cy="97.90" rx="1.8" ry="1.2" fill="#4a3010"/>
<text x="660.93" y="95.80" font-family='"Liberation Sans",sans-serif' font-size="9.6" font-weight="bold" fill="#2b2bff" textLength="10.01" lengthAdjust="spacingAndGlyphs" >&lt;1</text>
<line x1="595.1" y1="110.8" x2="598.5" y2="110.8" stroke="#0000ff" stroke-width="1.3"/>
<path d="M607.00,107.40V114.90L600.00,111.15Z" fill="#0000ff"/>
<text x="613.00" y="113.10" font-family='"Liberation Sans",sans-serif' font-size="8.5" font-weight="normal" fill="#ff1a90" textLength="4.30" lengthAdjust="spacingAndGlyphs" >ϕ</text>
<text x="616.79" y="113.10" font-family='"Liberation Sans",sans-serif' font-size="7.8" font-weight="normal" fill="#ff1a90" textLength="18.97" lengthAdjust="spacingAndGlyphs" >=0.7,</text>
<text x="634.68" y="113.10" font-family='"Liberation Sans",sans-serif' font-size="9.6" font-weight="bold" fill="#2b2bff" textLength="6.25" lengthAdjust="spacingAndGlyphs" >U</text>
<text x="642.21" y="115.90" font-family='"Liberation Sans",sans-serif' font-size="6.5" font-weight="bold" fill="#2b2bff" textLength="3.78" lengthAdjust="spacingAndGlyphs" >w</text>
<text x="646.83" y="113.10" font-family='"Liberation Sans",sans-serif' font-size="9.6" font-weight="bold" fill="#2b2bff" textLength="7.53" lengthAdjust="spacingAndGlyphs" >/U</text>
<ellipse cx="659.6" cy="115.20" rx="1.8" ry="1.2" fill="#4a3010"/>
<text x="660.93" y="113.10" font-family='"Liberation Sans",sans-serif' font-size="9.6" font-weight="bold" fill="#2b2bff" textLength="10.01" lengthAdjust="spacingAndGlyphs" >&lt;1</text>
<text x="83.77" y="38.50" font-family='"Liberation Sans",sans-serif' font-size="11.6" font-weight="normal" fill="#2626f4" textLength="43.25" lengthAdjust="spacingAndGlyphs"  stroke="#2626f4" stroke-width="0.35">Pr=4.17,</text>
<text x="129.43" y="38.50" font-family='"Liberation Sans",sans-serif' font-size="11.6" font-weight="normal" fill="#2626f4" textLength="39.52" lengthAdjust="spacingAndGlyphs"  stroke="#2626f4" stroke-width="0.35">m-0.25,</text>
<text x="176.66" y="38.50" font-family='"Liberation Sans",sans-serif' font-size="11.6" font-weight="bold" fill="#2626f4" textLength="53.20" lengthAdjust="spacingAndGlyphs"  stroke="#2626f4" stroke-width="0.25">=05,ξ=05</text>
<text x="171.92" y="38.20" font-family='"Liberation Sans",sans-serif' font-size="12.55" font-weight="normal" fill="#6a6af0" textLength="5.46" lengthAdjust="spacingAndGlyphs" >ϕ</text>
<text x="421.22" y="31.90" font-family='"Liberation Sans",sans-serif' font-size="11.4" font-weight="bold" fill="#2626f4" textLength="5.78" lengthAdjust="spacingAndGlyphs" >P</text>
<text x="429.18" y="31.90" font-family='"Liberation Sans",sans-serif' font-size="11.4" font-weight="bold" fill="#2626f4" textLength="9.21" lengthAdjust="spacingAndGlyphs" >r=</text>
<text x="439.84" y="31.90" font-family='"Liberation Sans",sans-serif' font-size="11.4" font-weight="bold" fill="#2626f4" textLength="23.88" lengthAdjust="spacingAndGlyphs" >4.17,</text>
<text x="466.94" y="31.90" font-family='"Liberation Sans",sans-serif' font-size="11.4" font-weight="bold" fill="#2626f4" textLength="39.84" lengthAdjust="spacingAndGlyphs" >m-0.25,</text>
<text x="515.17" y="31.90" font-family='"Liberation Sans",sans-serif' font-size="11.4" font-weight="bold" fill="#2626f4" textLength="23.53" lengthAdjust="spacingAndGlyphs" >=0.5,</text>
<text x="541.38" y="31.90" font-family='"Liberation Sans",sans-serif' font-size="11.4" font-weight="bold" fill="#2626f4" textLength="24.00" lengthAdjust="spacingAndGlyphs" >ξ=0.5</text>
<text x="510.43" y="31.70" font-family='"Liberation Sans",sans-serif' font-size="13.2" font-weight="normal" fill="#6a6af0" textLength="5.35" lengthAdjust="spacingAndGlyphs" >ϕ</text>
<path d="M28,175.1H11.9V171.6Q11.9,170.7 12.9,170.7H15.2V168.1H12.2Q8.6,168.1 8.6,171.6V178H28Z" fill="#ff0000"/>
<rect x="13.7" y="172.9" width="3.3" height="7.7" fill="#ff0000"/>
<rect x="8.3" y="162.3" width="6.8" height="3.1" fill="#ff0000"/>
<g transform="translate(28.30,158.69) rotate(-90) scale(0.935,1)"><text x="0" y="0" font-family='"Liberation Sans",sans-serif' font-size="23.5" font-weight="bold" fill="#ff0000">(</text></g>
<g fill="none" stroke="#ff0000" stroke-width="1.7" stroke-linecap="round"><path d="M13.3,141.2L12.9,148"/><path d="M13.2,147.2Q15.6,149.3 18.4,147.6"/><path d="M18.1,141.6L18.5,147.6"/><path d="M18.5,147.4Q19.8,150.6 22.9,150.1Q26.1,149.4 26.9,144.2Q27.3,140.3 27.9,137.5"/><path d="M27.2,139.5Q27.0,134.8 29.0,134.6Q30.7,134.8 30.6,138.8" stroke-width="2.4"/><path d="M30.6,139Q31.2,142.5 30.9,145.8" stroke-width="1.4"/></g>
<g transform="translate(27.80,126.97) rotate(-90) scale(1.093,1)"><text x="0" y="0" font-family='"Liberation Sans",sans-serif' font-size="22.5" font-weight="bold" fill="#ff0000">0</text></g>
<g transform="translate(28.10,112.82) rotate(-90) scale(0.844,1)"><text x="0" y="0" font-family='"Liberation Sans",sans-serif' font-size="23.5" font-weight="bold" fill="#ff0000">)</text></g>
<g transform="translate(365.60,176.38) rotate(-90) scale(1.326,1)"><text x="0" y="0" font-family='"Liberation Sans",sans-serif' font-size="23" font-weight="normal" fill="#ff0000">θ</text></g>
<g transform="translate(363.10,160.18) rotate(-90) scale(1.211,1)"><text x="0" y="0" font-family='"Liberation Sans",sans-serif' font-size="23" font-weight="bold" fill="#ff0000">'</text></g>
<g transform="translate(366.10,152.78) rotate(-90) scale(1.220,1)"><text x="0" y="0" font-family='"Liberation Sans",sans-serif' font-size="23.5" font-weight="normal" fill="#ff0000">(</text></g>
<g fill="none" stroke="#ff0000" stroke-width="1.6" stroke-linecap="round"><path d="M350.2,132.4L349.6,140"/><path d="M349.8,139.8Q352.5,141.3 355.8,139.4"/><path d="M355.4,131.8L356,139.5"/><path d="M356,139.4Q358.5,142.5 361.8,141.9Q364.3,141 364.6,136.5Q364.9,131.5 366.3,129.9Q368.5,129.2 369.4,132.5L369.7,136" stroke-width="1.9"/></g>
<g transform="translate(366.10,129.66) rotate(-90) scale(1.772,1)"><text x="0" y="0" font-family='"Liberation Sans",sans-serif' font-size="23" font-weight="normal" fill="#ff0000">,</text></g>
<g transform="translate(365.90,121.89) rotate(-90) scale(1.184,1)"><text x="0" y="0" font-family='"Liberation Sans",sans-serif' font-size="23.5" font-weight="normal" fill="#ff0000">0</text></g>
<g transform="translate(366.10,105.76) rotate(-90) scale(1.172,1)"><text x="0" y="0" font-family='"Liberation Sans",sans-serif' font-size="23.5" font-weight="normal" fill="#ff0000">)</text></g>
<rect x="153.35" y="277" width="2.1" height="21.5" fill="#ff0000"/>
<rect x="216.05" y="277" width="2.1" height="22" fill="#ff0000"/>
<text x="160.61" y="296.50" font-family='"Liberation Sans",sans-serif' font-size="23.5" font-weight="bold" fill="#ff0000" textLength="15.50" lengthAdjust="spacingAndGlyphs" >U</text>
<text x="175.92" y="305.60" font-family='"Liberation Sans",sans-serif' font-size="13.5" font-weight="normal" fill="#ff0000" textLength="10.94" lengthAdjust="spacingAndGlyphs" stroke="#ff0000" stroke-width="0.3">w</text>
<text x="185.95" y="296.50" font-family='"Liberation Sans",sans-serif' font-size="21" font-weight="bold" fill="#ff0000" textLength="7.21" lengthAdjust="spacingAndGlyphs" >-</text>
<text x="192.57" y="296.50" font-family='"Liberation Sans",sans-serif' font-size="23.5" font-weight="bold" fill="#ff0000" textLength="15.98" lengthAdjust="spacingAndGlyphs" >U</text>
<text x="208.00" y="304.10" font-family='"Liberation Sans",sans-serif' font-size="14" font-weight="bold" fill="#ff0000" textLength="10.09" lengthAdjust="spacingAndGlyphs" >∞</text>
<rect x="485.00" y="273.5" width="2.0" height="21.0" fill="#ff0000"/>
<rect x="547.00" y="274" width="2.0" height="20.5" fill="#ff0000"/>
<text x="491.34" y="292.30" font-family='"Liberation Sans",sans-serif' font-size="23.5" font-weight="normal" fill="#ff0000" textLength="15.51" lengthAdjust="spacingAndGlyphs" stroke="#ff0000" stroke-width="0.45">U</text>
<text x="507.62" y="301.30" font-family='"Liberation Sans",sans-serif' font-size="12.5" font-weight="normal" fill="#ff0000" textLength="9.05" lengthAdjust="spacingAndGlyphs" >w</text>
<text x="517.36" y="292.30" font-family='"Liberation Sans",sans-serif' font-size="21" font-weight="normal" fill="#ff0000" textLength="6.27" lengthAdjust="spacingAndGlyphs" >-</text>
<text x="523.34" y="292.30" font-family='"Liberation Sans",sans-serif' font-size="23.5" font-weight="normal" fill="#ff0000" textLength="15.51" lengthAdjust="spacingAndGlyphs" stroke="#ff0000" stroke-width="0.45">U</text>
<text x="539.16" y="300.50" font-family='"Liberation Sans",sans-serif' font-size="12.7" font-weight="bold" fill="#ff0000" textLength="8.87" lengthAdjust="spacingAndGlyphs" >∞</text>
<text x="177.90" y="323.20" font-family='"Liberation Serif",serif' font-size="17.8" font-weight="normal" fill="#000" textLength="20.09" lengthAdjust="spacingAndGlyphs" >(a)</text>
<text x="510.18" y="323.20" font-family='"Liberation Serif",serif' font-size="17.8" font-weight="normal" fill="#000" textLength="21.74" lengthAdjust="spacingAndGlyphs" >(b)</text>
</svg>
</body></html>
